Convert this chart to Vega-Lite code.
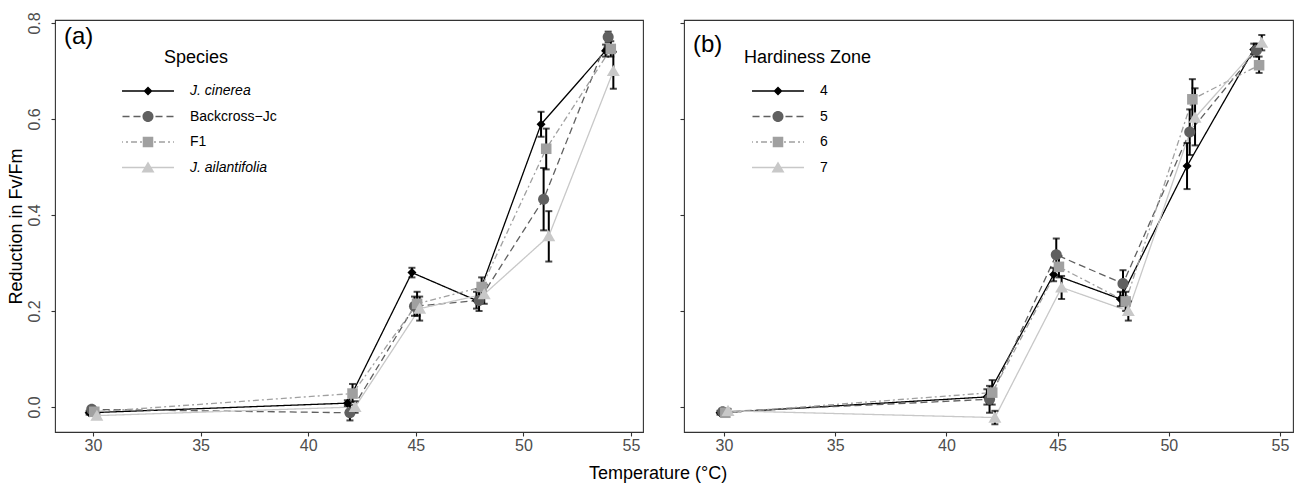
{
  "$schema": "https://vega.github.io/schema/vega-lite/v6.json",
  "padding": {"left": 6, "top": 11, "right": 6, "bottom": 3},
  "config": {
    "font": "Liberation Sans",
    "view": {"stroke": "#333333", "strokeWidth": 1.1},
    "axis": {"domain": false, "grid": false, "tickColor": "#333333", "tickSize": 4, "tickWidth": 1.1, "labelFontSize": 16, "labelColor": "#4d4d4d", "titleFontSize": 18, "titleFontWeight": "normal", "titleColor": "#000000"},
    "legend": {"orient": "none", "titleFontSize": 18, "titleFontWeight": "normal", "titleColor": "#000000", "labelFontSize": 14, "labelColor": "#000000", "symbolSize": 144, "symbolOpacity": 1, "symbolStrokeWidth": 0, "rowPadding": 11.5, "titlePadding": 17, "padding": 0, "labelOffset": 35, "titleAnchor": "start"},
    "title": {"fontWeight": "normal", "color": "#000000"}
  },
  "title": {"text": "Temperature (°C)", "orient": "bottom", "anchor": "middle", "fontSize": 18, "offset": 11, "dx": 8},
  "datasets": {
    "species": [
      {"group": "J. cinerea", "temp": 29.82, "y": -0.012, "lo": -0.016, "hi": -0.008},
      {"group": "J. cinerea", "temp": 41.82, "y": 0.008, "lo": 0.002, "hi": 0.014},
      {"group": "J. cinerea", "temp": 44.82, "y": 0.28, "lo": 0.27, "hi": 0.29},
      {"group": "J. cinerea", "temp": 47.82, "y": 0.222, "lo": 0.205, "hi": 0.24},
      {"group": "J. cinerea", "temp": 50.82, "y": 0.589, "lo": 0.563, "hi": 0.615},
      {"group": "J. cinerea", "temp": 53.82, "y": 0.742, "lo": 0.73, "hi": 0.755},
      {"group": "Backcross-Jc", "temp": 29.94, "y": -0.005, "lo": -0.009, "hi": -0.001},
      {"group": "Backcross-Jc", "temp": 41.94, "y": -0.012, "lo": -0.028, "hi": 0.004},
      {"group": "Backcross-Jc", "temp": 44.94, "y": 0.21, "lo": 0.19, "hi": 0.23},
      {"group": "Backcross-Jc", "temp": 47.94, "y": 0.222, "lo": 0.2, "hi": 0.245},
      {"group": "Backcross-Jc", "temp": 50.94, "y": 0.433, "lo": 0.368, "hi": 0.498},
      {"group": "Backcross-Jc", "temp": 53.94, "y": 0.771, "lo": 0.76, "hi": 0.782},
      {"group": "F1", "temp": 30.06, "y": -0.01, "lo": -0.014, "hi": -0.006},
      {"group": "F1", "temp": 42.06, "y": 0.028, "lo": 0.01, "hi": 0.048},
      {"group": "F1", "temp": 45.06, "y": 0.215, "lo": 0.19, "hi": 0.24},
      {"group": "F1", "temp": 48.06, "y": 0.25, "lo": 0.23, "hi": 0.27},
      {"group": "F1", "temp": 51.06, "y": 0.538, "lo": 0.495, "hi": 0.58},
      {"group": "F1", "temp": 54.06, "y": 0.746, "lo": 0.73, "hi": 0.762},
      {"group": "J. ailantifolia", "temp": 30.18, "y": -0.018, "lo": -0.022, "hi": -0.014},
      {"group": "J. ailantifolia", "temp": 42.18, "y": 0.0, "lo": -0.012, "hi": 0.012},
      {"group": "J. ailantifolia", "temp": 45.18, "y": 0.205, "lo": 0.18, "hi": 0.23},
      {"group": "J. ailantifolia", "temp": 48.18, "y": 0.235, "lo": 0.215, "hi": 0.255},
      {"group": "J. ailantifolia", "temp": 51.18, "y": 0.356, "lo": 0.303, "hi": 0.408},
      {"group": "J. ailantifolia", "temp": 54.18, "y": 0.7, "lo": 0.663, "hi": 0.74}
    ],
    "zone": [
      {"group": "4", "temp": 29.82, "y": -0.012, "lo": -0.016, "hi": -0.008},
      {"group": "4", "temp": 41.82, "y": 0.021, "lo": 0.005, "hi": 0.037},
      {"group": "4", "temp": 44.82, "y": 0.276, "lo": 0.262, "hi": 0.29},
      {"group": "4", "temp": 47.82, "y": 0.225, "lo": 0.21, "hi": 0.24},
      {"group": "4", "temp": 50.82, "y": 0.502, "lo": 0.454, "hi": 0.55},
      {"group": "4", "temp": 53.82, "y": 0.745, "lo": 0.735, "hi": 0.757},
      {"group": "5", "temp": 29.94, "y": -0.01, "lo": -0.014, "hi": -0.006},
      {"group": "5", "temp": 41.94, "y": 0.016, "lo": -0.012, "hi": 0.044},
      {"group": "5", "temp": 44.94, "y": 0.317, "lo": 0.283, "hi": 0.351},
      {"group": "5", "temp": 47.94, "y": 0.257, "lo": 0.229, "hi": 0.285},
      {"group": "5", "temp": 50.94, "y": 0.573, "lo": 0.525, "hi": 0.62},
      {"group": "5", "temp": 53.94, "y": 0.743, "lo": 0.73, "hi": 0.757},
      {"group": "6", "temp": 30.06, "y": -0.012, "lo": -0.016, "hi": -0.008},
      {"group": "6", "temp": 42.06, "y": 0.03, "lo": 0.005, "hi": 0.056},
      {"group": "6", "temp": 45.06, "y": 0.292, "lo": 0.27, "hi": 0.315},
      {"group": "6", "temp": 48.06, "y": 0.22, "lo": 0.2, "hi": 0.24},
      {"group": "6", "temp": 51.06, "y": 0.641, "lo": 0.6, "hi": 0.683},
      {"group": "6", "temp": 54.06, "y": 0.712, "lo": 0.696, "hi": 0.73},
      {"group": "7", "temp": 30.18, "y": -0.008, "lo": -0.012, "hi": -0.004},
      {"group": "7", "temp": 42.18, "y": -0.022, "lo": -0.036, "hi": -0.008},
      {"group": "7", "temp": 45.18, "y": 0.249, "lo": 0.225, "hi": 0.273},
      {"group": "7", "temp": 48.18, "y": 0.2, "lo": 0.18, "hi": 0.22},
      {"group": "7", "temp": 51.18, "y": 0.603, "lo": 0.545, "hi": 0.664},
      {"group": "7", "temp": 54.18, "y": 0.759, "lo": 0.743, "hi": 0.775}
    ]
  },
  "spacing": 41,
  "bounds": "flush",
  "resolve": {
    "scale": {"x": "independent", "y": "independent", "color": "independent", "strokeDash": "independent", "fill": "independent", "shape": "independent"},
    "legend": {"fill": "independent", "shape": "independent"}
  },
  "hconcat": [
    {
      "width": 588,
      "height": 412,
      "data": {"name": "species"},
      "title": {"text": "(a)", "anchor": "start", "orient": "top", "frame": "group", "offset": -37, "dx": 9, "fontSize": 24},
      "resolve": {"scale": {"shape": "independent", "fill": "independent"}, "legend": {"shape": "independent", "fill": "independent"}},
      "layer": [
        {
          "mark": {"type": "line", "strokeWidth": 1.3},
          "encoding": {
            "x": {"field": "temp", "type": "quantitative", "scale": {"domain": [28.234, 55.558], "nice": false, "zero": false}, "axis": {"values": [30, 35, 40, 45, 50, 55], "title": null, "labelPadding": 1}},
            "y": {"field": "y", "type": "quantitative", "scale": {"domain": [-0.0521, 0.80625], "nice": false, "zero": false}, "axis": {"values": [0, 0.2, 0.4, 0.6, 0.8], "format": ".1f", "title": "Reduction in Fv/Fm", "labelAngle": -90, "labelPadding": 9, "titlePadding": 1}},
            "color": {"field": "group", "type": "nominal", "scale": {"domain": ["J. cinerea", "Backcross-Jc", "F1", "J. ailantifolia"], "range": ["#000000", "#606060", "#a0a0a0", "#c8c8c8"]}, "legend": null},
            "strokeDash": {"field": "group", "type": "nominal", "scale": {"domain": ["J. cinerea", "Backcross-Jc", "F1", "J. ailantifolia"], "range": [[1, 0], [7, 4], [2, 3, 6, 3], [1, 0]]}, "legend": null}
          }
        },
        {
          "mark": {"type": "errorbar", "ticks": true, "size": 7, "thickness": 2, "color": "#000000"},
          "encoding": {
            "x": {"field": "temp", "type": "quantitative"},
            "y": {"field": "lo", "type": "quantitative", "title": "Reduction in Fv/Fm"},
            "y2": {"field": "hi"}
          }
        },
        {
          "mark": {"type": "point", "filled": true, "size": 144, "opacity": 1, "strokeWidth": 0},
          "encoding": {
            "x": {"field": "temp", "type": "quantitative"},
            "y": {"field": "y", "type": "quantitative", "title": "Reduction in Fv/Fm"},
            "color": {"field": "group", "type": "nominal", "legend": null},
            "shape": {"field": "group", "type": "nominal", "scale": {"domain": ["J. cinerea", "Backcross-Jc", "F1", "J. ailantifolia"], "range": ["M0,-0.75L0.75,0L0,0.75L-0.75,0Z", "M0.92,0A0.92,0.92,0,1,1,-0.92,0A0.92,0.92,0,1,1,0.92,0Z", "M-0.88,-0.88L0.88,-0.88L0.88,0.88L-0.88,0.88Z", "M0,-1L1.08,0.85L-1.08,0.85Z"]}, "legend": null}
          }
        },
        {
          "transform": [{"filter": "false"}],
          "mark": {"type": "point", "filled": true, "size": 144, "opacity": 1, "strokeWidth": 0},
          "encoding": {
            "x": {"field": "temp", "type": "quantitative"},
            "y": {"field": "y", "type": "quantitative", "title": "Reduction in Fv/Fm"},
            "fill": {
              "field": "group", "type": "nominal",
              "scale": {"domain": ["J. cinerea", "Backcross-Jc", "F1", "J. ailantifolia"], "range": ["#000000", "#606060", "#a0a0a0", "#c8c8c8"]},
              "legend": {
                "title": "Species", "legendX": 66, "legendY": 29, "symbolOffset": 20,
                "labelExpr": "datum.label === 'Backcross-Jc' ? 'Backcross−Jc' : datum.label",
                "encode": {
                  "title": {"update": {"dx": {"value": 43}}},
                  "labels": {"update": {"fontStyle": {"signal": "datum.value === 'J. cinerea' || datum.value === 'J. ailantifolia' ? 'italic' : 'normal'"}}}
                }
              }
            },
            "shape": {
              "field": "group", "type": "nominal",
              "scale": {"domain": ["J. cinerea", "Backcross-Jc", "F1", "J. ailantifolia"], "range": [
                "M-4.33,-0.11L4.33,-0.11L4.33,0.11L-4.33,0.11ZM0,-0.75L0.75,0L0,0.75L-0.75,0Z",
                "M-4.25,-0.11L-3.08,-0.11L-3.08,0.11L-4.25,0.11ZM-2.42,-0.11L-1.25,-0.11L-1.25,0.11L-2.42,0.11ZM-0.58,-0.11L0.58,-0.11L0.58,0.11L-0.58,0.11ZM1.25,-0.11L2.42,-0.11L2.42,0.11L1.25,0.11ZM3.08,-0.11L4.25,-0.11L4.25,0.11L3.08,0.11ZM0.92,0A0.92,0.92,0,1,1,-0.92,0A0.92,0.92,0,1,1,0.92,0Z",
                "M-4.33,-0.11L-4.17,-0.11L-4.17,0.11L-4.33,0.11ZM-3.67,-0.11L-3.33,-0.11L-3.33,0.11L-3.67,0.11ZM-2.83,-0.11L-1.83,-0.11L-1.83,0.11L-2.83,0.11ZM-1.33,-0.11L-1,-0.11L-1,0.11L-1.33,0.11ZM-0.5,-0.11L0.5,-0.11L0.5,0.11L-0.5,0.11ZM1,-0.11L1.33,-0.11L1.33,0.11L1,0.11ZM1.83,-0.11L2.83,-0.11L2.83,0.11L1.83,0.11ZM3.33,-0.11L3.67,-0.11L3.67,0.11L3.33,0.11ZM4.17,-0.11L4.33,-0.11L4.33,0.11L4.17,0.11ZM-0.88,-0.88L0.88,-0.88L0.88,0.88L-0.88,0.88Z",
                "M-4.33,-0.11L4.33,-0.11L4.33,0.11L-4.33,0.11ZM0,-1L1.08,0.85L-1.08,0.85Z"
              ]},
              "legend": {
                "title": "Species", "legendX": 66, "legendY": 29, "symbolOffset": 20,
                "labelExpr": "datum.label === 'Backcross-Jc' ? 'Backcross−Jc' : datum.label",
                "encode": {
                  "title": {"update": {"dx": {"value": 43}}},
                  "labels": {"update": {"fontStyle": {"signal": "datum.value === 'J. cinerea' || datum.value === 'J. ailantifolia' ? 'italic' : 'normal'"}}}
                }
              }
            }
          }
        }
      ]
    },
    {
      "width": 609,
      "height": 412,
      "data": {"name": "zone"},
      "title": {"text": "(b)", "anchor": "start", "orient": "top", "frame": "group", "offset": -37, "dx": 9, "fontSize": 24},
      "resolve": {"scale": {"shape": "independent", "fill": "independent"}, "legend": {"shape": "independent", "fill": "independent"}},
      "layer": [
        {
          "mark": {"type": "line", "strokeWidth": 1.3},
          "encoding": {
            "x": {"field": "temp", "type": "quantitative", "scale": {"domain": [28.2014, 55.5845], "nice": false, "zero": false}, "axis": {"values": [30, 35, 40, 45, 50, 55], "title": null, "labelPadding": 1}},
            "y": {"field": "y", "type": "quantitative", "scale": {"domain": [-0.0521, 0.80625], "nice": false, "zero": false}, "axis": {"values": [0, 0.2, 0.4, 0.6, 0.8], "labels": false, "title": null}},
            "color": {"field": "group", "type": "nominal", "scale": {"domain": ["4", "5", "6", "7"], "range": ["#000000", "#606060", "#a0a0a0", "#c8c8c8"]}, "legend": null},
            "strokeDash": {"field": "group", "type": "nominal", "scale": {"domain": ["4", "5", "6", "7"], "range": [[1, 0], [7, 4], [2, 3, 6, 3], [1, 0]]}, "legend": null}
          }
        },
        {
          "mark": {"type": "errorbar", "ticks": true, "size": 7, "thickness": 2, "color": "#000000"},
          "encoding": {
            "x": {"field": "temp", "type": "quantitative"},
            "y": {"field": "lo", "type": "quantitative"},
            "y2": {"field": "hi"}
          }
        },
        {
          "mark": {"type": "point", "filled": true, "size": 144, "opacity": 1, "strokeWidth": 0},
          "encoding": {
            "x": {"field": "temp", "type": "quantitative"},
            "y": {"field": "y", "type": "quantitative"},
            "color": {"field": "group", "type": "nominal", "legend": null},
            "shape": {"field": "group", "type": "nominal", "scale": {"domain": ["4", "5", "6", "7"], "range": ["M0,-0.75L0.75,0L0,0.75L-0.75,0Z", "M0.92,0A0.92,0.92,0,1,1,-0.92,0A0.92,0.92,0,1,1,0.92,0Z", "M-0.88,-0.88L0.88,-0.88L0.88,0.88L-0.88,0.88Z", "M0,-1L1.08,0.85L-1.08,0.85Z"]}, "legend": null}
          }
        },
        {
          "transform": [{"filter": "false"}],
          "mark": {"type": "point", "filled": true, "size": 144, "opacity": 1, "strokeWidth": 0},
          "encoding": {
            "x": {"field": "temp", "type": "quantitative"},
            "y": {"field": "y", "type": "quantitative"},
            "fill": {
              "field": "group", "type": "nominal",
              "scale": {"domain": ["4", "5", "6", "7"], "range": ["#000000", "#606060", "#a0a0a0", "#c8c8c8"]},
              "legend": {"title": "Hardiness Zone", "legendX": 60, "legendY": 29, "symbolOffset": 27}
            },
            "shape": {
              "field": "group", "type": "nominal",
              "scale": {"domain": ["4", "5", "6", "7"], "range": [
                "M-4.33,-0.11L4.33,-0.11L4.33,0.11L-4.33,0.11ZM0,-0.75L0.75,0L0,0.75L-0.75,0Z",
                "M-4.25,-0.11L-3.08,-0.11L-3.08,0.11L-4.25,0.11ZM-2.42,-0.11L-1.25,-0.11L-1.25,0.11L-2.42,0.11ZM-0.58,-0.11L0.58,-0.11L0.58,0.11L-0.58,0.11ZM1.25,-0.11L2.42,-0.11L2.42,0.11L1.25,0.11ZM3.08,-0.11L4.25,-0.11L4.25,0.11L3.08,0.11ZM0.92,0A0.92,0.92,0,1,1,-0.92,0A0.92,0.92,0,1,1,0.92,0Z",
                "M-4.33,-0.11L-4.17,-0.11L-4.17,0.11L-4.33,0.11ZM-3.67,-0.11L-3.33,-0.11L-3.33,0.11L-3.67,0.11ZM-2.83,-0.11L-1.83,-0.11L-1.83,0.11L-2.83,0.11ZM-1.33,-0.11L-1,-0.11L-1,0.11L-1.33,0.11ZM-0.5,-0.11L0.5,-0.11L0.5,0.11L-0.5,0.11ZM1,-0.11L1.33,-0.11L1.33,0.11L1,0.11ZM1.83,-0.11L2.83,-0.11L2.83,0.11L1.83,0.11ZM3.33,-0.11L3.67,-0.11L3.67,0.11L3.33,0.11ZM4.17,-0.11L4.33,-0.11L4.33,0.11L4.17,0.11ZM-0.88,-0.88L0.88,-0.88L0.88,0.88L-0.88,0.88Z",
                "M-4.33,-0.11L4.33,-0.11L4.33,0.11L-4.33,0.11ZM0,-1L1.08,0.85L-1.08,0.85Z"
              ]},
              "legend": {"title": "Hardiness Zone", "legendX": 60, "legendY": 29, "symbolOffset": 27}
            }
          }
        }
      ]
    }
  ]
}
